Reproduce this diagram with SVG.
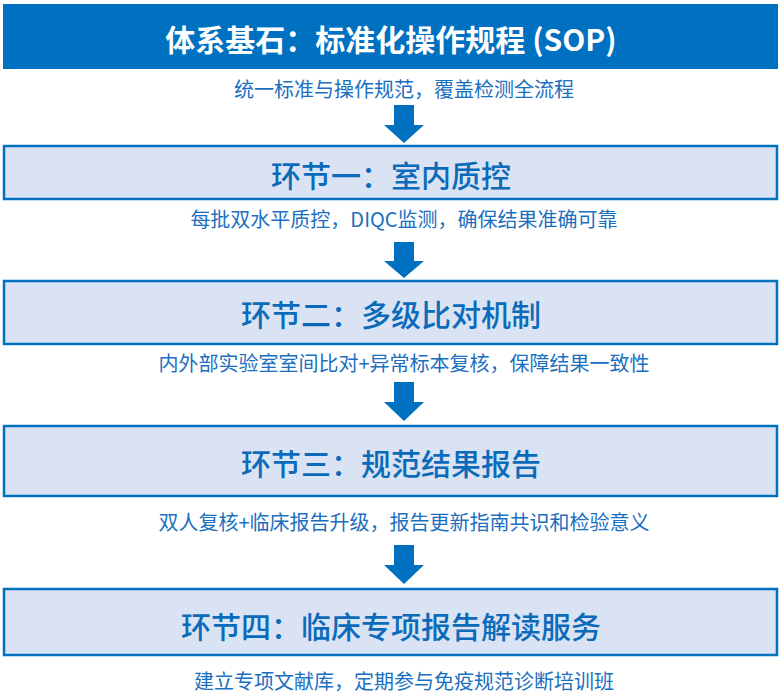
<svg xmlns="http://www.w3.org/2000/svg" width="780" height="696" viewBox="0 0 780 696">
<defs>
<style>
.bg{fill:#ffffff}
.banner{fill:#0070C0}
.box{fill:#DAE3F3;stroke:#0070C0;stroke-width:2.5}
.arrow{fill:#0070C0}
.t-banner{font-family:"Noto Sans CJK SC","Liberation Sans",sans-serif;font-size:30px;font-weight:700;fill:#ffffff;text-anchor:middle;dominant-baseline:central}
.t-title{font-family:"Noto Sans CJK SC","Liberation Sans",sans-serif;font-size:30px;font-weight:500;fill:#0B6BBA;text-anchor:middle;dominant-baseline:central}
.t-sub{font-family:"Noto Sans CJK SC","Liberation Sans",sans-serif;font-size:20px;font-weight:400;fill:#1A6FBF;text-anchor:middle;dominant-baseline:central}
</style>
</defs>
<rect class="bg" x="0" y="0" width="780" height="696"/>
<g id="node-sop">
<rect class="banner" x="3" y="4" width="775" height="65"/>
<text class="t-banner" x="391" y="38">体系基石：标准化操作规程 (SOP)</text>
<text class="t-sub" x="404" y="88">统一标准与操作规范，覆盖检测全流程</text>
</g>
<g id="node-step1">
<rect class="box" x="4" y="146" width="773" height="53"/>
<text class="t-title" x="391" y="174">环节一：室内质控</text>
<text class="t-sub" x="404" y="218">每批双水平质控，DIQC监测，确保结果准确可靠</text>
</g>
<g id="node-step2">
<rect class="box" x="4" y="281" width="773" height="63"/>
<text class="t-title" x="391" y="313">环节二：多级比对机制</text>
<text class="t-sub" x="404" y="362">内外部实验室室间比对+异常标本复核，保障结果一致性</text>
</g>
<g id="node-step3">
<rect class="box" x="4" y="426" width="773" height="70"/>
<text class="t-title" x="391" y="462">环节三：规范结果报告</text>
<text class="t-sub" x="404" y="521">双人复核+临床报告升级，报告更新指南共识和检验意义</text>
</g>
<g id="node-step4">
<rect class="box" x="4" y="589" width="773" height="66"/>
<text class="t-title" x="391" y="625">环节四：临床专项报告解读服务</text>
<text class="t-sub" x="404" y="680">建立专项文献库，定期参与免疫规范诊断培训班</text>
</g>
<g id="connectors">
<polygon class="arrow" points="394,105 414,105 414,125 424,125 404,143 384,125 394,125"/>
<polygon class="arrow" points="394,242 414,242 414,261 424,261 404,278 384,261 394,261"/>
<polygon class="arrow" points="394,382 414,382 414,402 424,402 404,421 384,402 394,402"/>
<polygon class="arrow" points="394,545 414,545 414,565 424,565 404,584 384,565 394,565"/>
</g>
</svg>
